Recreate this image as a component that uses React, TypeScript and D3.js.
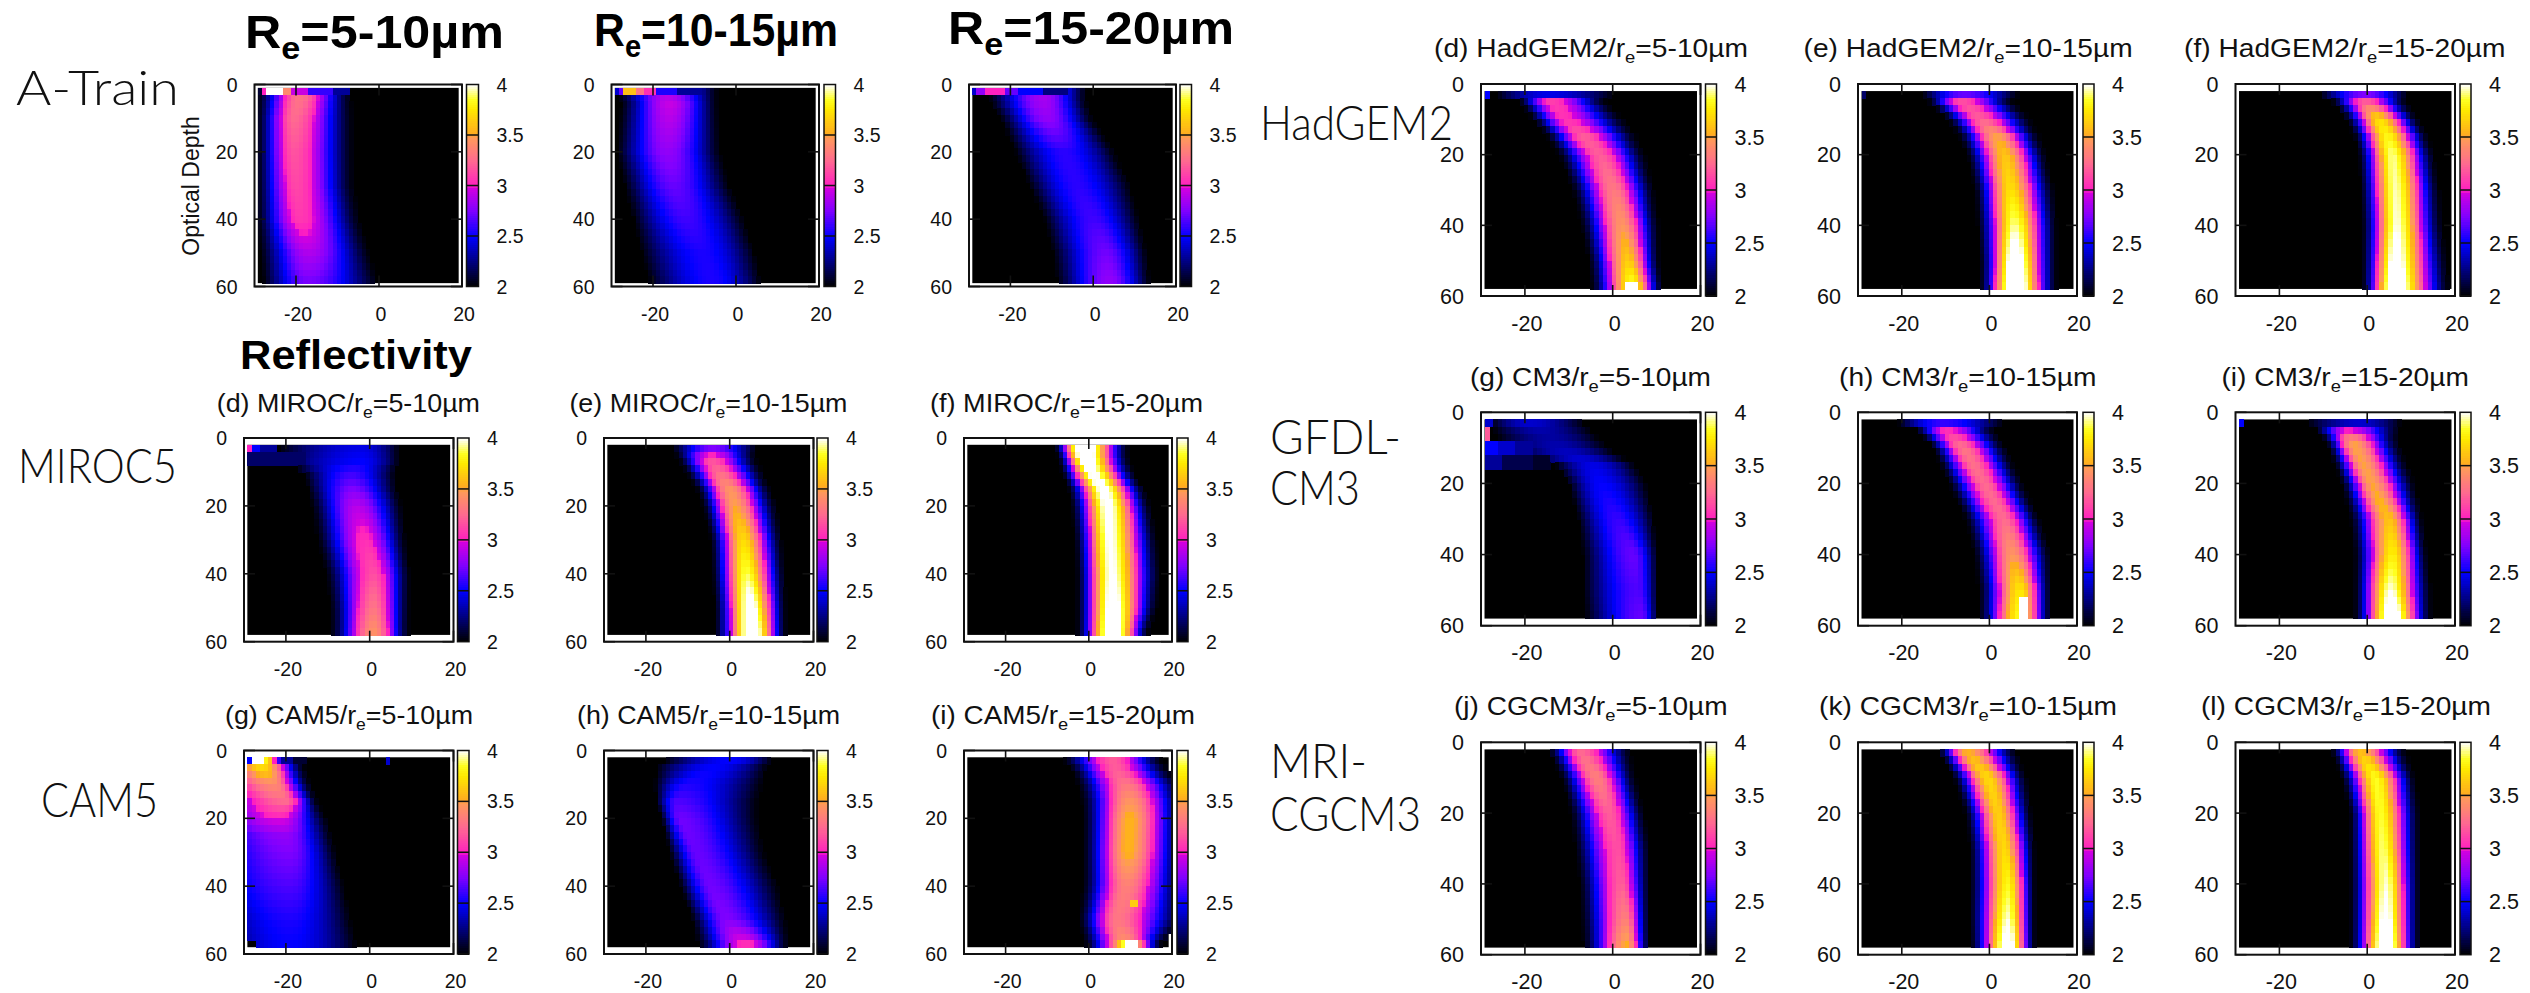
import React, { useMemo } from "react";
import * as d3 from "d3";

type Row = number[]; // depth, left edge, ridge, right edge, peak (log10 of reflectivity count)
type Patch = number[]; // depth0, depth1, x0, x1, value

// ---------- values ----------
const aTrain1: Row[] = [[3,-30,-19,-6,3.3],[10,-30,-20.5,-5.5,3.25],[20,-30,-20.5,-5.5,3.17],[30,-30,-20,-5.5,3.13],[40,-30,-19,-4,3.08],[50,-29,-17,-2,2.88],[59,-28,-17,0,2.72]];
const aTrain2: Row[] = [[3,-29,-17,-4,2.85],[5,-28,-16,-4,2.95],[20,-29,-16.5,-3.5,2.8],[30,-27,-15,-1.5,2.7],[40,-25,-12,2,2.62],[50,-23,-8,4.5,2.55],[59,-21,-5.5,6,2.55]];
const aTrain3: Row[] = [[5,-25.5,-12,-1.5,2.85],[10,-22.7,-11,0,2.8],[20,-19,-7,5,2.58],[30,-15.5,-4,9,2.58],[40,-12,0,11,2.62],[50,-10,3,13,2.72],[59,-9,4,14,2.8]];
const miroc1: Row[] = [[3,-22,-2,7,2.45],[7,-22,-2,7,2.5],[10,-16,-4.5,6,2.6],[15,-15,-4,6.6,2.75],[20,-14,-3,8,2.9],[30,-13,-1,9,3.05],[40,-11,1,10,3.15],[50,-10,1,10,3.3],[58,-10,1,10,3.45]];
const miroc2: Row[] = [[3,-13.8,-4,6.5,2.75],[6,-13,-4.6,6.5,3.15],[10,-11,-2.6,8.5,3.25],[15,-8.5,0,10.4,3.45],[20,-7,1.3,11.7,3.5],[30,-5,3.2,13,3.7],[40,-4.6,4,13.7,3.88],[50,-4,5,14,4.1],[58,-4,5.5,14,4.2]];
const miroc3: Row[] = [[3,-8.6,-1.4,10.2,4.3],[6,-7.8,-1,10.2,4.2],[10,-7,0.6,11.4,4.05],[15,-5.4,3.4,13.8,4.05],[20,-4.6,4.6,15.4,4.05],[30,-3.8,5,17,4.02],[40,-3.4,5.4,17.8,4.02],[50,-3.4,5.7,17,4.12],[58,-3.4,5.8,14.6,4.25]];
const cam1: Row[] = [[5,-40,-25.5,-15,3.7],[10,-45,-23,-13.6,3.4],[15,-45,-20,-12,3.25],[20,-45,-21.5,-10,3],[25,-45,-20,-9,2.8],[30,-45,-19,-8,2.75],[40,-45,-19,-6,2.65],[50,-40,-19,-4.5,2.55],[58,-38,-19,-3,2.5]];
const cam2: Row[] = [[3,-15.7,0,10,2.5],[5,-17.7,-4,9,2.5],[10,-18,-10.5,8,2.55],[15,-17.7,-12.5,7,2.65],[20,-16.4,-12,7,2.72],[30,-14.4,-8,8.5,2.7],[40,-12,-4.6,11.7,2.72],[50,-9,-0.7,13.7,2.75],[55,-8.5,2.6,14.4,2.95],[58,-8,4.6,14.4,3.1]];
const cam3: Row[] = [[3,-6.5,5.8,18,3.2],[6,-4.5,6.6,20,3.2],[10,-3.4,9,23,3.3],[15,-2.5,9.8,24,3.45],[20,-2.2,9.8,24,3.55],[30,-2.2,9.4,24,3.55],[40,-2.2,9,24,3.35],[50,-3,6.6,24,3.3],[55,-2.2,8.2,20,3.4],[58,-1.5,10.6,17,3.9]];
const had1: Row[] = [[3,-26.6,-14.7,0.3,2.45],[5,-21.6,-14,-1,3.1],[10,-18.5,-11,2.8,3.05],[15,-15.3,-6.6,6,3.2],[20,-12.8,-2.8,7.8,3.2],[30,-9.7,0.3,10,3.32],[40,-7.8,2.2,11,3.45],[50,-6,3.5,11,3.65],[58,-5.3,4.7,11.6,3.9]];
const had2: Row[] = [[3,-15.5,-5.7,6.7,2.7],[5,-14.3,-6.3,6,3.15],[10,-10,-2,9.8,3.2],[15,-7.5,1.7,12,3.5],[20,-5.7,3.6,13.5,3.62],[30,-3.8,4.8,15.3,3.72],[40,-3.2,5.8,16,3.92],[50,-2.6,5.8,16,4.15],[58,-2.6,5.8,16,4.3]];
const had3: Row[] = [[3,-11,-0.4,9.5,2.75],[5,-8.4,-0.4,9.5,3.2],[10,-5.3,2.7,12,3.72],[15,-3.5,4.6,14.4,3.82],[20,-2.5,5.8,15.7,3.92],[30,-2,6.4,17,3.95],[40,-1.6,6.7,17.5,3.98],[50,-1.6,6.4,18.7,4.08],[58,-1.6,6.2,19.4,4.2]];
const gfdl1: Row[] = [[3,-28,-19,-6.4,2.4],[6,-27,-15,-4,2.3],[10,-25,-12,-1,2.35],[15,-13,-4.5,5,2.45],[20,-10,-2.7,7.5,2.5],[30,-8,1,9.4,2.6],[40,-7,4.8,10.3,2.7],[50,-7,5.7,10.3,2.65],[58,-6.4,6.6,10.3,2.7]];
const gfdl2: Row[] = [[3,-21,-10.6,3.4,2.6],[5,-17,-9.7,1.5,3.05],[10,-13.4,-6,4.3,3.3],[20,-9.7,-1.3,8,3.25],[30,-6,3.4,11.8,3.25],[40,-4,5.3,14.6,3.45],[50,-3,7,14.6,3.75],[58,-3,7,14.6,3.85]];
const gfdl3: Row[] = [[3,-13.8,-1.6,7.7,2.4],[5,-12,-4.4,7.7,3],[8,-10,-3.5,7.7,3.5],[20,-6.3,1,11.4,3.5],[30,-4.4,5,13,3.6],[40,-3.5,5.8,14.2,3.78],[50,-3.5,5.3,15,3.98],[58,-3.5,5.8,15,4.2]];
const mri1: Row[] = [[3,-14.8,-7.3,4.8,3.25],[10,-12.3,-3.6,5.7,3.35],[20,-10,-0.8,7.5,3.2],[30,-9,1,8.5,3.15],[40,-8,2,8.5,3.2],[50,-7.8,3,8.5,3.35],[58,-7.3,3.3,8.5,3.55]];
const mri2: Row[] = [[3,-12,-5,7,3.55],[10,-8.7,-0.3,9,3.7],[20,-6,2,10,3.65],[30,-5,3.4,10.9,3.7],[40,-5,4.3,10.9,3.82],[50,-5,4.3,10.9,3.97],[58,-4.7,4.3,10.9,4.15]];
const mri3: Row[] = [[3,-8.5,-1.6,9.5,3.6],[10,-6.3,2,11.4,3.85],[20,-4.4,3,12.3,3.85],[30,-4.4,3.6,12.3,3.9],[40,-4.4,4.3,12.3,3.97],[50,-4.4,4.3,12.3,4.06],[58,-4.4,4.3,12.3,4.2]];

const aTrain1Patches: Patch[] = [[1,3,-29,-28,2.1],[1,3,-28,-27,3],[1,3,-27,-23,4.2],[1,3,-23,-21,3.4],[1,3,-21,-17,2.95],[1,3,-17,-11,2.6],[1,3,-11,-7,2.3]];
const aTrain2Patches: Patch[] = [[1,3,-29,-28,2.4],[1,3,-28,-27,2.7],[1,3,-27,-24,3.6],[1,3,-24,-22,3.3],[1,3,-22,-19,3.05],[1,3,-19,-14,2.55],[1,3,-14,-8,2.3]];
const aTrain3Patches: Patch[] = [[1,3,-29,-28,2.4],[1,3,-28,-26,2.8],[1,3,-26,-21,3],[1,3,-21,-18,2.7],[1,3,-18,-12,2.5],[1,3,-12,-6,2.25]];
const miroc1Patches: Patch[] = [[2,4,-29,-28,3],[2,4,-28,-26,2.5],[2,4,-26,-22,2.3],[4,8,-29,-15,2.2]];
const cam1Patches: Patch[] = [[2,4,-29,-28,2.5],[2,4,-28,-25,4.3],[2,4,-25,-24,3.8],[2,4,-24,-23,3.6],[2,4,-23,-22,3],[2,4,-22,-21,2.6],[2,4,-21,-18,2.3],[2,4,-18,-15,2.1],[56,58,-29,-27,2],[2,4,4,5,2.4]];
const cam3Patches: Patch[] = [[44,47,10,12,3.65],[56,58,7,8,3.6],[56,58,8,9,3.85],[56,58,9,12,4.3]];
const had1Patches: Patch[] = [[2,4,-29,-28,2.5],[56,58,3,6,4.2]];
const had2Patches: Patch[] = [[2,4,-29,-28,2.2]];
const gfdl1Patches: Patch[] = [[2,4,-29,-27,2.4],[4,8,-29,-28,3.2],[8,12,-29,-26,2.5],[8,12,-26,-22,2.4],[8,12,-22,-18,2.3],[12,16,-29,-25,2.3],[12,16,-25,-18,2.15],[12,16,-18,-14,2.08]];
const gfdl2Patches: Patch[] = [[52,56,6.5,8.5,4.3],[56,58,7,9,4.2]];
const gfdl3Patches: Patch[] = [[2,4,-29,-28,2.5]];

const xTicks = [-20, 0, 20];
const yTicks = [0, 20, 40, 60];
const barTicks = [2, 2.5, 3, 3.5, 4];
const barLines = [2.5, 3, 3.5];
const paletteStops = [2, 2.5, 2.75, 2.97, 3, 3.25, 3.48, 3.52, 3.75, 3.85, 4];
const paletteColors = ["#000000","#0000ff","#8000ff","#d000e0","#ff20c0","#ff6a90","#ff9a5a","#ffab20","#ffe800","#ffff20","#ffffff"];

// ---------- layout ----------
type Panel = { rows: Row[]; patches?: Patch[]; model?: string; re?: string; frame: number[]; bar: number[]; title?: number[]; tick: number; obs?: boolean; yTitle?: boolean };
const Y1 = [84.5, 286.5], Y2 = [438, 641.7], Y3 = [750.5, 954], R1 = [84, 296], R2 = [412.3, 625.7], R3 = [742.3, 954.7];
const panels: Panel[] = [
  { rows: aTrain1, patches: aTrain1Patches, frame: [254.5, 462, ...Y1], bar: [466.5, 478.5], tick: 19.5, obs: true, yTitle: true },
  { rows: aTrain2, patches: aTrain2Patches, frame: [611.5, 819, ...Y1], bar: [824, 835.5], tick: 19.5, obs: true },
  { rows: aTrain3, patches: aTrain3Patches, frame: [969, 1176, ...Y1], bar: [1180, 1191.5], tick: 19.5, obs: true },
  { rows: miroc1, patches: miroc1Patches, model: "(d) MIROC", re: "5-10", frame: [244, 453.5, ...Y2], bar: [457.5, 469], title: [216.7, 480, 411.7], tick: 19.5 },
  { rows: miroc2, model: "(e) MIROC", re: "10-15", frame: [604, 813.5, ...Y2], bar: [817, 828], title: [569.4, 847.5, 411.7], tick: 19.5 },
  { rows: miroc3, model: "(f) MIROC", re: "15-20", frame: [964, 1172, ...Y2], bar: [1177, 1188], title: [930, 1203, 411.7], tick: 19.5 },
  { rows: cam1, patches: cam1Patches, model: "(g) CAM5", re: "5-10", frame: [244, 453.5, ...Y3], bar: [457.5, 469], title: [225, 473, 724], tick: 19.5 },
  { rows: cam2, model: "(h) CAM5", re: "10-15", frame: [604, 813.5, ...Y3], bar: [817, 828], title: [577, 840, 724], tick: 19.5 },
  { rows: cam3, patches: cam3Patches, model: "(i) CAM5", re: "15-20", frame: [964, 1172, ...Y3], bar: [1177, 1188], title: [931, 1195, 724], tick: 19.5 },
  { rows: had1, patches: had1Patches, model: "(d) HadGEM2", re: "5-10", frame: [1481, 1700.5, ...R1], bar: [1705.5, 1716.5], title: [1434, 1748, 56.7], tick: 21.5 },
  { rows: had2, patches: had2Patches, model: "(e) HadGEM2", re: "10-15", frame: [1858, 2077, ...R1], bar: [2083, 2094], title: [1803.6, 2132.6, 56.7], tick: 21.5 },
  { rows: had3, model: "(f) HadGEM2", re: "15-20", frame: [2235.5, 2455, ...R1], bar: [2460, 2471], title: [2184, 2505.5, 56.7], tick: 21.5 },
  { rows: gfdl1, patches: gfdl1Patches, model: "(g) CM3", re: "5-10", frame: [1481, 1700.5, ...R2], bar: [1705.5, 1716.5], title: [1470, 1711, 386], tick: 21.5 },
  { rows: gfdl2, patches: gfdl2Patches, model: "(h) CM3", re: "10-15", frame: [1858, 2077, ...R2], bar: [2083, 2094], title: [1839, 2096.5, 386], tick: 21.5 },
  { rows: gfdl3, patches: gfdl3Patches, model: "(i) CM3", re: "15-20", frame: [2235.5, 2455, ...R2], bar: [2460, 2471], title: [2221.4, 2468.8, 386], tick: 21.5 },
  { rows: mri1, model: "(j) CGCM3", re: "5-10", frame: [1481, 1700.5, ...R3], bar: [1705.5, 1716.5], title: [1454, 1727.6, 715], tick: 21.5 },
  { rows: mri2, model: "(k) CGCM3", re: "10-15", frame: [1858, 2077, ...R3], bar: [2083, 2094], title: [1819, 2117, 715], tick: 21.5 },
  { rows: mri3, model: "(l) CGCM3", re: "15-20", frame: [2235.5, 2455, ...R3], bar: [2460, 2471], title: [2201, 2491, 715], tick: 21.5 },
];

const rowLabels: [string, number, number, number][] = [
  ["A-Train", 16, 179, 105], ["MIROC5", 18, 177, 483], ["CAM5", 41, 158, 817],
  ["HadGEM2", 1260, 1453, 140], ["GFDL-", 1270, 1401, 454], ["CM3", 1270, 1360, 505],
  ["MRI-", 1270, 1367, 778], ["CGCM3", 1270, 1421, 831],
];
const headings: [string, number, number, number][] = [["5-10", 245, 504, 47.7], ["10-15", 594, 838, 45.7], ["15-20", 948, 1234, 44]];

const SANS = "'Liberation Sans', Arial, sans-serif";
const THIN = "Lato, 'Noto Sans', sans-serif";

const palette = d3.scaleLinear<string>().domain(paletteStops).range(paletteColors).clamp(true);
const sharpness = d3.scaleLinear().domain([2.5, 3.4]).range([1, 2]).clamp(true);

function profile(rows: Row[]) {
  const depths = rows.map((r) => r[0]);
  const col = (i: number) => d3.scaleLinear().domain(depths).range(rows.map((r) => r[i])).clamp(true);
  const left = col(1), ridge = col(2), right = col(3), peak = col(4);
  return (x: number, d: number) => {
    const c = ridge(d);
    const t = x < c ? (c - x) / (c - left(d)) : (x - c) / (right(d) - c);
    if (t >= 1) return 2;
    const p = peak(d);
    return 2 + (p - 2) * Math.pow(Math.cos((Math.PI / 2) * t), sharpness(p));
  };
}

function HeatPanel({ p }: { p: Panel }) {
  const [fx0, fx1, fy0, fy1] = p.frame;
  const x = d3.scaleLinear().domain([-30, 20]).range([fx0, fx1]);
  const y = d3.scaleLinear().domain([0, 60]).range([fy0, fy1]);
  const bar = d3.scaleLinear().domain([2, 4]).range([fy1, fy0]);
  const dTop = p.obs ? 1 : 2, dBottom = p.obs ? 59 : 58;
  const cells = useMemo(() => {
    const f = profile(p.rows);
    const out: { x: number; d: number; v: number }[] = [];
    const xs = d3.range(-29.2, 19.2, 1);
    const ds = d3.range(dTop, dBottom, 2);
    for (const d of ds) for (const cx of xs) {
      const mx = cx + 0.5, md = d + 1;
      let v = f(mx, md);
      for (const q of p.patches || []) if (md > q[0] && md < q[1] && mx > q[2] && mx < q[3]) v = q[4];
      if (v > 2.015) out.push({ x: cx, d, v });
    }
    return out;
  }, [p]);
  const barSteps = d3.range(2, 4, 0.02);
  const tl = 11;
  const labelX = fx0 - 17;
  return (
    <g>
      <rect x={fx0} y={fy0} width={fx1 - fx0} height={fy1 - fy0} fill="#fff" />
      <rect x={x(-29.2)} y={y(dTop)} width={x(19.2) - x(-29.2)} height={y(dBottom) - y(dTop)} fill="#000" />
      <g shapeRendering="crispEdges">
        {cells.map((c, i) => (
          <rect key={i} x={x(c.x)} y={y(c.d)} width={x(c.x + 1) - x(c.x) + 0.6} height={y(c.d + 2) - y(c.d) + 0.6} fill={palette(c.v)} />
        ))}
      </g>
      <rect x={fx0} y={fy0} width={fx1 - fx0} height={fy1 - fy0} fill="none" stroke="#111" strokeWidth={2} />
      {xTicks.map((t) => (
        <g key={t} stroke="#111" strokeWidth={1.6}>
          <line x1={x(t)} x2={x(t)} y1={fy0} y2={fy0 + tl} />
          <line x1={x(t)} x2={x(t)} y1={fy1} y2={fy1 - tl} />
        </g>
      ))}
      {yTicks.map((t) => (
        <g key={t} stroke="#111" strokeWidth={1.6}>
          <line x1={fx0} x2={fx0 + tl} y1={y(t)} y2={y(t)} />
          <line x1={fx1} x2={fx1 - tl} y1={y(t)} y2={y(t)} />
        </g>
      ))}
      <g fontFamily={SANS} fontSize={p.tick} fill="#111">
        {xTicks.map((t) => (
          <text key={t} x={x(t) + 2} y={fy1 + 27} dy="0.36em" textAnchor="middle">{t}</text>
        ))}
        {yTicks.map((t) => (
          <text key={t} x={labelX} y={y(t)} dy="0.36em" textAnchor="end">{t}</text>
        ))}
        {barTicks.map((t) => (
          <text key={t} x={p.bar[1] + 18} y={bar(t)} dy="0.36em">{t}</text>
        ))}
      </g>
      <g shapeRendering="crispEdges">
        {barSteps.map((v) => (
          <rect key={v} x={p.bar[0]} width={p.bar[1] - p.bar[0]} y={bar(v + 0.02)} height={bar(v) - bar(v + 0.02) + 0.6} fill={palette(v + 0.01)} />
        ))}
      </g>
      {barLines.map((t) => (
        <line key={t} x1={p.bar[0]} x2={p.bar[1]} y1={bar(t)} y2={bar(t)} stroke="#111" strokeWidth={1.5} />
      ))}
      <rect x={p.bar[0]} y={fy0} width={p.bar[1] - p.bar[0]} height={fy1 - fy0} fill="none" stroke="#111" strokeWidth={1.5} />
      {p.title && (
        <text x={p.title[0]} y={p.title[2]} fontFamily={SANS} fontSize={26} fill="#111"
          textLength={p.title[1] - p.title[0]} lengthAdjust="spacingAndGlyphs">
          {p.model}/r<tspan dy={6} fontSize={17}>e</tspan><tspan dy={-6}>={p.re}µm</tspan>
        </text>
      )}
      {p.yTitle && (
        <text transform={`translate(${fx0 - 56},186) rotate(-90)`} textAnchor="middle" fontFamily={SANS} fontSize={23} fill="#111">Optical Depth</text>
      )}
    </g>
  );
}

export default function App() {
  return (
    <svg width={2530} height={993} viewBox="0 0 2530 993" style={{ position: "absolute", left: 0, top: 0, display: "block", background: "#fff" }}>
      {panels.map((p, i) => <HeatPanel key={i} p={p} />)}
      {rowLabels.map(([t, a, b, y]) => (
        <text key={t} x={a} y={y} fontFamily={THIN} fontWeight={300} fontSize={47} fill="#111" textLength={b - a} lengthAdjust="spacingAndGlyphs">{t}</text>
      ))}
      {headings.map(([t, a, b, y]) => (
        <text key={t} x={a} y={y} fontFamily={SANS} fontWeight={700} fontSize={47} fill="#000" textLength={b - a} lengthAdjust="spacingAndGlyphs">
          R<tspan dy={11} fontSize={32}>e</tspan><tspan dy={-11}>={t}µm</tspan>
        </text>
      ))}
      <text x={240} y={369} fontFamily={SANS} fontWeight={700} fontSize={41} fill="#000" textLength={232} lengthAdjust="spacingAndGlyphs">Reflectivity</text>
    </svg>
  );
}
